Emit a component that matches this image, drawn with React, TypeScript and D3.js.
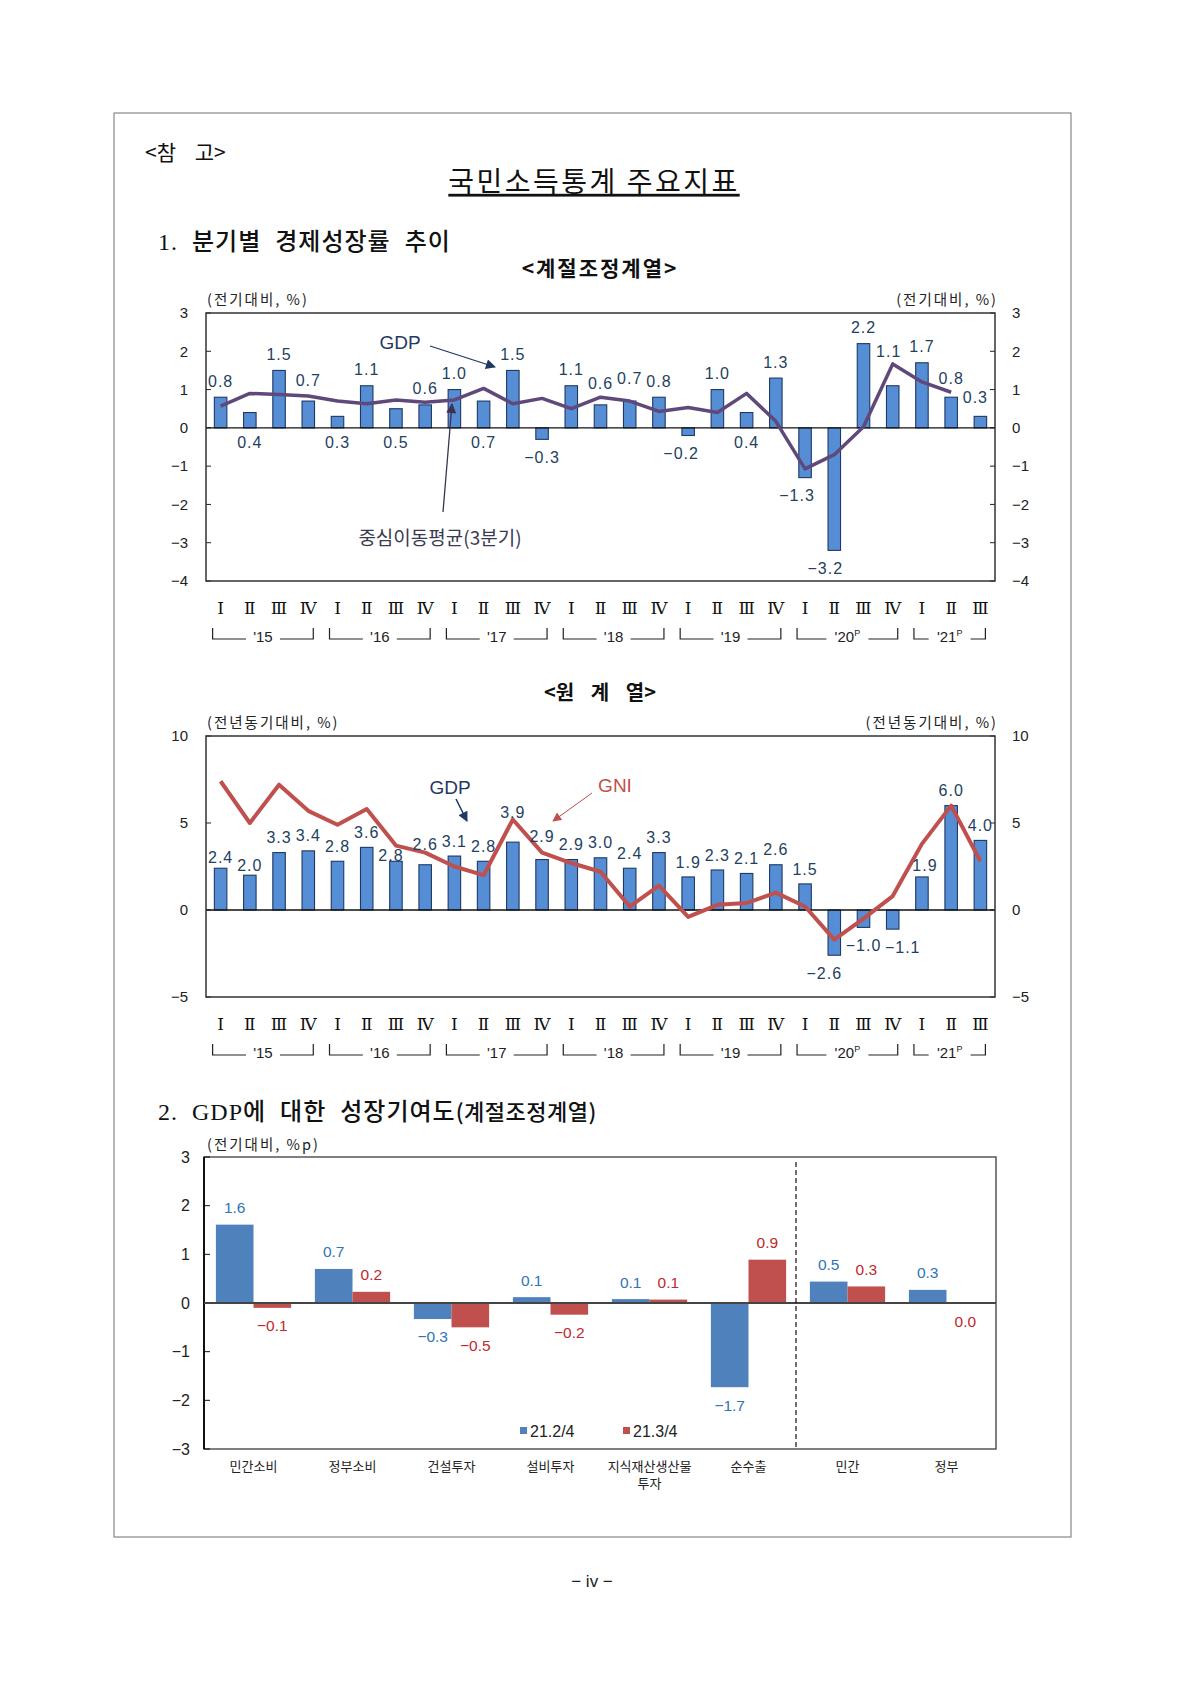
import * as d3 from "d3";
import React from "react";

// 2015 Q1 ~ 2021 Q3
const yearLabels = ["'15", "'16", "'17", "'18", "'19", "'20", "'21"];
const yearPrelim = [false, false, false, false, false, true, true];
const quartersPerYear = [4, 4, 4, 4, 4, 4, 3];
const quarterNames = ["Ⅰ", "Ⅱ", "Ⅲ", "Ⅳ"];

// 계절조정계열 (전기대비, %)
const saGdp = [0.8, 0.4, 1.5, 0.7, 0.3, 1.1, 0.5, 0.6, 1.0, 0.7, 1.5, -0.3, 1.1, 0.6, 0.7, 0.8, -0.2, 1.0, 0.4, 1.3, -1.3, -3.2, 2.2, 1.1, 1.7, 0.8, 0.3];
// 중심이동평균(3분기) - last quarter has none
const saCentredAvg = [0.57, 0.9, 0.87, 0.83, 0.7, 0.63, 0.73, 0.67, 0.73, 1.03, 0.63, 0.77, 0.5, 0.8, 0.7, 0.43, 0.53, 0.4, 0.9, 0.17, -1.07, -0.7, 0.03, 1.67, 1.2, 0.93];

// 원계열 (전년동기대비, %)
const yoyGdp = [2.4, 2.0, 3.3, 3.4, 2.8, 3.6, 2.8, 2.6, 3.1, 2.8, 3.9, 2.9, 2.9, 3.0, 2.4, 3.3, 1.9, 2.3, 2.1, 2.6, 1.5, -2.6, -1.0, -1.1, 1.9, 6.0, 4.0];
const yoyGni = [7.4, 5.0, 7.2, 5.7, 4.9, 5.8, 3.7, 3.3, 2.5, 2.0, 5.2, 3.3, 2.7, 2.2, 0.2, 1.4, -0.4, 0.3, 0.4, 1.0, 0.2, -1.7, -0.5, 0.8, 3.8, 6.0, 2.8];

// GDP에 대한 성장기여도 (전기대비, %p)
const contribCategories = ["민간소비", "정부소비", "건설투자", "설비투자", "지식재산생산물\n투자", "순수출", "민간", "정부"];
const seriesNames = ["21.2/4", "21.3/4"];
const contribQ2 = [1.61, 0.7, -0.33, 0.12, 0.08, -1.73, 0.44, 0.27];
const contribQ3 = [-0.1, 0.23, -0.5, -0.24, 0.07, 0.89, 0.34, -0.02];
const contribQ2Labels = ["1.6", "0.7", "−0.3", "0.1", "0.1", "−1.7", "0.5", "0.3"];
const contribQ3Labels = ["−0.1", "0.2", "−0.5", "−0.2", "0.1", "0.9", "0.3", "0.0"];

const periods = yearLabels.flatMap((y, i) => d3.range(quartersPerYear[i]).map((q) => `${y}-${q}`));

// label placement (u = above bar, d = below the zero line)
const saLabelSide = ["u", "d", "u", "u", "d", "u", "d", "u", "u", "d", "u", "d", "u", "u", "u", "u", "d", "u", "d", "u", "d", "d", "u", "u", "u", "u", "u"];
const saTweaks: Record<number, [number, number]> = { 3: [0, -5], 13: [0, -5], 14: [0, -7], 16: [-7, 0], 20: [-8, 0], 21: [-9, 0], 23: [-4, -18], 25: [0, -3], 26: [-5, -3] };
const yoyTweaks: Record<number, [number, number]> = { 0: [0, 4], 1: [0, 5], 6: [-5, 9], 7: [0, -5], 10: [0, -15], 11: [0, -8], 21: [-10, 0], 23: [10, 0], 24: [3, 3] };

const PLOT_L = 206;
const PLOT_R = 995;
const KR = "'Noto Sans CJK KR', sans-serif";
const NUM = "'Liberation Sans', Arial, sans-serif";
const NAVY = "#1f3864";

function QuarterChart(props: {
  top: number;
  bottom: number;
  domain: [number, number];
  ticks: number[];
  bars: number[];
  side?: string[];
  tweaks: Record<number, [number, number]>;
  upGap: number;
  line: number[];
  lineColor: string;
  lineWidth: number;
  unit: string;
}) {
  const { top, bottom, domain, ticks, bars, side, tweaks, upGap, line, lineColor, lineWidth, unit } = props;
  const x = d3.scaleBand<string>().domain(periods).range([PLOT_L, PLOT_R]);
  const y = d3.scaleLinear().domain(domain).range([bottom, top]);
  const bw = x.bandwidth();
  const barW = 12.5;
  const cx = (i: number) => (x(periods[i]) as number) + bw / 2;
  const y0 = y(0);
  const fmt = d3.format(".1f");
  const path = d3.line<number>().x((_, i) => cx(i)).y((d) => y(d))(line) as string;

  let start = 0;
  const groups = yearLabels.map((lab, i) => {
    const s = start;
    const e = start + quartersPerYear[i] - 1;
    start = e + 1;
    return { lab, s, e, prelim: yearPrelim[i] };
  });

  return (
    <g>
      <text x={PLOT_L + 1} y={top - 8} fontFamily={KR} fontSize={14.5} letterSpacing={2} fill="#222">{unit}</text>
      <text x={PLOT_R + 3} y={top - 8} fontFamily={KR} fontSize={14.5} letterSpacing={2} fill="#222" textAnchor="end">{unit}</text>
      {ticks.map((t) => (
        <g key={t}>
          <line x1={PLOT_L} x2={PLOT_L + 5} y1={y(t)} y2={y(t)} stroke="#222" />
          <line x1={PLOT_R} x2={PLOT_R - 5} y1={y(t)} y2={y(t)} stroke="#222" />
          <text x={188} y={y(t)} dy="0.35em" textAnchor="end" fontFamily={NUM} fontSize={15} fill="#222">{d3.format("d")(t)}</text>
          <text x={1012} y={y(t)} dy="0.35em" textAnchor="start" fontFamily={NUM} fontSize={15} fill="#222">{d3.format("d")(t)}</text>
        </g>
      ))}
      {bars.map((v, i) => (
        <rect key={i} x={cx(i) - barW / 2} y={Math.min(y(v), y0)} width={barW} height={Math.abs(y(v) - y0)}
          fill="#558ed5" stroke={NAVY} strokeWidth={1.1} />
      ))}
      <line x1={PLOT_L} x2={PLOT_R} y1={y0} y2={y0} stroke="#111" strokeWidth={1.3} />
      <rect x={PLOT_L} y={top} width={PLOT_R - PLOT_L} height={bottom - top} fill="none" stroke="#333" strokeWidth={1.5} />
      <path d={path} fill="none" stroke={lineColor} strokeWidth={lineWidth} strokeLinejoin="round" />
      {bars.map((v, i) => {
        const tw = tweaks[i] || [0, 0];
        const ly = v < 0 ? y(v) + 18 : side && side[i] === "d" ? y0 + 15 : y(v) - upGap;
        return (
          <text key={i} x={cx(i) + tw[0]} y={ly + tw[1]} dy="0.35em" textAnchor="middle" fontFamily={NUM}
            fontSize={16} letterSpacing={1} fill="#243f60">{fmt(v)}</text>
        );
      })}
      {periods.map((p, i) => (
        <text key={p} x={cx(i)} y={bottom + 27} dy="0.35em" textAnchor="middle" fontFamily="'DejaVu Serif', serif"
          fontSize={17} fill="#111">{quarterNames[+p.split("-")[1]]}</text>
      ))}
      {groups.map((g) => {
        const x1 = cx(g.s) - 8;
        const x2 = cx(g.e) + 5;
        const mid = (x1 + x2) / 2;
        const gap = g.prelim ? 21 : 17;
        const yl = bottom + 58;
        const yt = bottom + 47;
        return (
          <g key={g.lab}>
            <path d={`M${x1},${yt}V${yl}H${mid - gap}M${mid + gap},${yl}H${x2}V${yt}`} fill="none" stroke="#222" strokeWidth={1.2} />
            <text x={mid} y={bottom + 56} dy="0.35em" textAnchor="middle" fontFamily={NUM} fontSize={15} fill="#222">
              {g.lab}
              {g.prelim ? <tspan fontSize={9} dy={-6}>P</tspan> : null}
            </text>
          </g>
        );
      })}
    </g>
  );
}

function ContribChart() {
  const top = 1157;
  const bottom = 1449;
  const x0 = d3.scaleBand<string>().domain(contribCategories).range([204, 996]);
  const bw = x0.bandwidth();
  const x1 = d3.scaleBand<string>().domain(seriesNames).range([bw * 0.12, bw * 0.88]);
  const y = d3.scaleLinear().domain([-3, 3]).range([bottom, top]);
  const y0 = y(0);
  const series = [
    { name: seriesNames[0], values: contribQ2, labels: contribQ2Labels, fill: "#4f81bd", text: "#2e75b6" },
    { name: seriesNames[1], values: contribQ3, labels: contribQ3Labels, fill: "#c0504d", text: "#c0282d" },
  ];
  const labelTweak: Record<string, number> = { "1-2": 5 };
  return (
    <g>
      <text x={207} y={1145} dy="0.35em" fontFamily={KR} fontSize={14.5} letterSpacing={2} fill="#222">(전기대비, %p)</text>
      <rect x={204} y={top} width={792} height={bottom - top} fill="none" stroke="#555" strokeWidth={1.5} />
      <line x1={204} x2={204} y1={top} y2={bottom} stroke="#111" strokeWidth={2} />
      {d3.range(-3, 4).map((t) => (
        <g key={t}>
          <line x1={204} x2={210} y1={y(t)} y2={y(t)} stroke="#111" />
          <text x={190} y={y(t)} dy="0.35em" textAnchor="end" fontFamily={NUM} fontSize={16} fill="#222">{d3.format("d")(t)}</text>
        </g>
      ))}
      {series.map((s, si) =>
        s.values.map((v, i) => {
          const bx = (x0(contribCategories[i]) as number) + (x1(s.name) as number);
          return (
            <rect key={`${si}-${i}`} x={bx} y={Math.min(y(v), y0)} width={x1.bandwidth()} height={Math.abs(y(v) - y0)} fill={s.fill} />
          );
        })
      )}
      <line x1={204} x2={996} y1={y0} y2={y0} stroke="#444" strokeWidth={2} />
      <line x1={(x0("민간") as number) - 2} x2={(x0("민간") as number) - 2} y1={top + 5} y2={bottom} stroke="#111" strokeWidth={1.2} strokeDasharray="5,3" />
      {series.map((s, si) =>
        s.values.map((v, i) => {
          const bx = (x0(contribCategories[i]) as number) + (x1(s.name) as number) + x1.bandwidth() / 2;
          const ly = v < -0.01 || s.labels[i] === "0.0" ? y(v) + 18 : y(v) - 17;
          return (
            <text key={`${si}-${i}`} x={bx + (labelTweak[`${si}-${i}`] || 0)} y={ly} dy="0.35em" textAnchor="middle"
              fontFamily={NUM} fontSize={15.5} fill={s.text}>{s.labels[i]}</text>
          );
        })
      )}
      {contribCategories.map((c) => {
        const lines = c.split("\n");
        return (
          <text key={c} x={(x0(c) as number) + bw / 2} y={1466} textAnchor="middle" fontFamily={KR} fontSize={13} fill="#222">
            {lines.map((l, k) => (
              <tspan key={k} x={(x0(c) as number) + bw / 2} dy={k === 0 ? "0.35em" : 17}>{l}</tspan>
            ))}
          </text>
        );
      })}
      {series.map((s, si) => (
        <g key={s.name} transform={`translate(${520 + si * 103},1431)`}>
          <rect x={0} y={-4} width={7} height={7} fill={s.fill} />
          <text x={10} y={0} dy="0.35em" fontFamily={NUM} fontSize={16} fill="#222">{s.name}</text>
        </g>
      ))}
    </g>
  );
}

export default function App() {
  return (
    <svg width={1190} height={1682} viewBox="0 0 1190 1682" style={{ position: "absolute", left: 0, top: 0, background: "#fff" }}>
      <defs>
        <marker id="arNavy" viewBox="0 0 10 10" refX={9} refY={5} markerWidth={12} markerHeight={10} markerUnits="userSpaceOnUse" orient="auto">
          <path d="M0,0L10,5L0,10z" fill={NAVY} />
        </marker>
        <marker id="arPurple" viewBox="0 0 10 10" refX={9} refY={5} markerWidth={11} markerHeight={10} markerUnits="userSpaceOnUse" orient="auto">
          <path d="M0,0L10,5L0,10z" fill="#3f3151" />
        </marker>
        <marker id="arRed" viewBox="0 0 10 10" refX={9} refY={5} markerWidth={11} markerHeight={9} markerUnits="userSpaceOnUse" orient="auto">
          <path d="M0,0L10,5L0,10z" fill="#c0504d" />
        </marker>
      </defs>
      <rect x={0} y={0} width={1190} height={1682} fill="#fff" />
      <rect x={114} y={113} width={957} height={1424} fill="none" stroke="#888" strokeWidth={1.2} />

      <text x={145} y={153} dy="0.35em" fontFamily={KR} fontSize={21} wordSpacing={14} fill="#111">{"<참 고>"}</text>
      <text x={594} y={182} dy="0.35em" textAnchor="middle" fontFamily={KR} fontSize={28} letterSpacing={2.5} textDecoration="underline" fill="#111">국민소득통계 주요지표</text>
      <text x={158} y={242} dy="0.35em" fontFamily={`'Liberation Serif', ${KR}`} fontSize={24} letterSpacing={1} wordSpacing={7} fontWeight={500} fill="#111">1. 분기별 경제성장률 추이</text>
      <text x={600} y={269} dy="0.35em" textAnchor="middle" fontFamily={KR} fontSize={21} letterSpacing={2} fontWeight={600} fill="#111">{"<계절조정계열>"}</text>

      <QuarterChart top={313} bottom={581} domain={[-4, 3]} ticks={d3.range(-4, 4)} bars={saGdp} side={saLabelSide}
        tweaks={saTweaks} upGap={16} line={saCentredAvg} lineColor="#5f497a" lineWidth={3.5} unit="(전기대비, %)" />
      <text x={400} y={342} dy="0.35em" textAnchor="middle" fontFamily={NUM} fontSize={19} fill={NAVY}>GDP</text>
      <line x1={430} y1={346} x2={495} y2={367} stroke={NAVY} strokeWidth={1.3} markerEnd="url(#arNavy)" />
      <text x={440} y={538} dy="0.35em" textAnchor="middle" fontFamily={KR} fontSize={19} fill="#3a3a50">중심이동평균(3분기)</text>
      <line x1={443} y1={512} x2={452} y2={404} stroke="#3f3151" strokeWidth={1.3} markerEnd="url(#arPurple)" />

      <text x={600} y={693} dy="0.35em" textAnchor="middle" fontFamily={KR} fontSize={20} fontWeight={600} wordSpacing={12} fill="#111">{"<원 계 열>"}</text>
      <QuarterChart top={736} bottom={997} domain={[-5, 10]} ticks={[-5, 0, 5, 10]} bars={yoyGdp}
        tweaks={yoyTweaks} upGap={15} line={yoyGni} lineColor="#c0504d" lineWidth={4} unit="(전년동기대비, %)" />
      <text x={450} y={787} dy="0.35em" textAnchor="middle" fontFamily={NUM} fontSize={19} fill={NAVY}>GDP</text>
      <line x1={456} y1={799} x2={467} y2={821} stroke={NAVY} strokeWidth={1.5} markerEnd="url(#arNavy)" />
      <text x={615} y={785} dy="0.35em" textAnchor="middle" fontFamily={NUM} fontSize={19} fill="#c0504d">GNI</text>
      <line x1={592} y1={793} x2={553} y2={821} stroke="#c0504d" strokeWidth={1} markerEnd="url(#arRed)" />

      <text x={158} y={1112} dy="0.35em" fontFamily={`'Liberation Serif', ${KR}`} fontSize={24} letterSpacing={1} wordSpacing={7} fontWeight={500} fill="#111">
        2. GDP에 대한 성장기여도<tspan fontFamily={KR} fontSize={22} letterSpacing={0.5}>(계절조정계열)</tspan>
      </text>
      <ContribChart />

      <text x={592} y={1581} dy="0.35em" textAnchor="middle" fontFamily={NUM} fontSize={17} fill="#222">− iv −</text>
    </svg>
  );
}
